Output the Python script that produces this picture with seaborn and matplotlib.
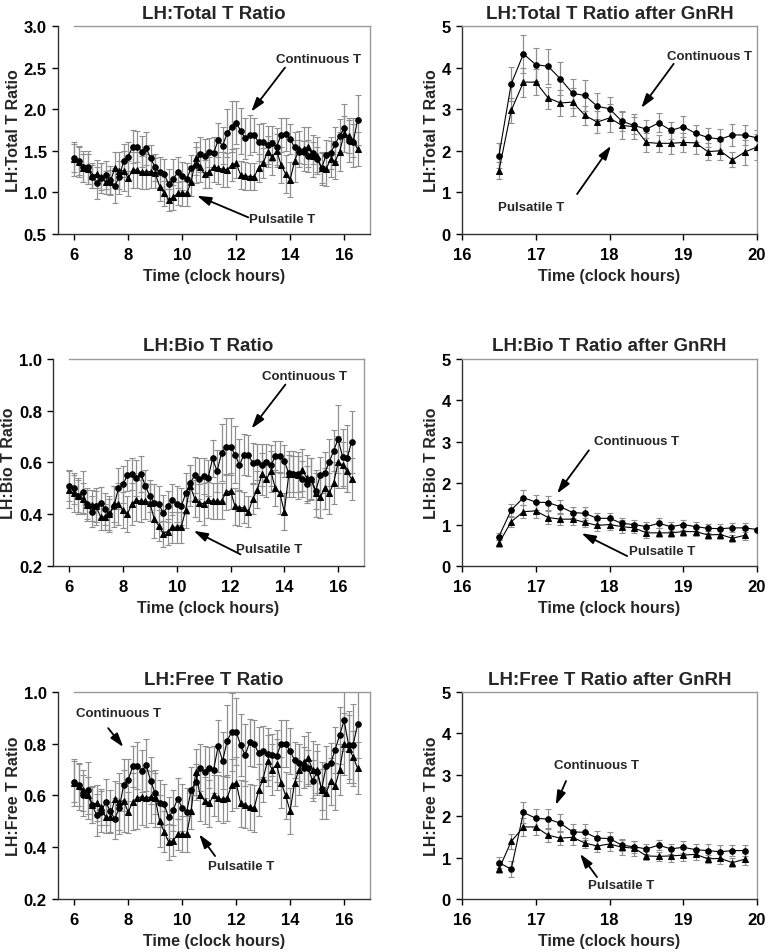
import numpy as np
import matplotlib
matplotlib.use('Agg')
import matplotlib.pyplot as plt
import seaborn as sns

sns.set_theme(style='ticks')
plt.rcParams['font.family'] = ['Liberation Sans', 'DejaVu Sans']
plt.rcParams['font.weight'] = 'bold'
plt.rcParams['axes.labelweight'] = 'bold'
plt.rcParams['axes.titleweight'] = 'bold'

# sampling times (clock hours, every 10 min)
t_day = np.round(6 + np.arange(64) / 6, 3)
t_gnrh = np.round(16.5 + np.arange(22) / 6, 3)

# ---- LH:Total T ----
total_cont = [1.41, 1.38, 1.31, 1.30, 1.19, 1.11, 1.17, 1.21, 1.15, 1.08,
              1.18, 1.38, 1.43, 1.55, 1.55, 1.49, 1.53, 1.41, 1.30, 1.24,
              1.22, 1.10, 1.16, 1.24, 1.20, 1.16, 1.29, 1.33, 1.46, 1.44,
              1.48, 1.47, 1.63, 1.56, 1.71, 1.79, 1.84, 1.74, 1.65, 1.69,
              1.69, 1.60, 1.60, 1.57, 1.59, 1.55, 1.69, 1.70, 1.64, 1.54,
              1.49, 1.48, 1.44, 1.47, 1.40, 1.29, 1.45, 1.47, 1.58, 1.68,
              1.77, 1.62, 1.60, 1.87]
total_cont_err = [0.17, 0.17, 0.19, 0.20, 0.14, 0.19, 0.18, 0.17, 0.17, 0.21,
                  0.20, 0.20, 0.17, 0.20, 0.19, 0.19, 0.20, 0.16, 0.16, 0.18,
                  0.18, 0.18, 0.24, 0.19, 0.17, 0.19, 0.16, 0.22, 0.21, 0.20,
                  0.17, 0.19, 0.21, 0.22, 0.29, 0.31, 0.26, 0.28, 0.25, 0.24,
                  0.21, 0.22, 0.23, 0.23, 0.21, 0.22, 0.20, 0.20, 0.18, 0.18,
                  0.14, 0.14, 0.19, 0.13, 0.15, 0.18, 0.18, 0.19, 0.20, 0.20,
                  0.29, 0.25, 0.30, 0.30]
total_puls = [1.40, 1.37, 1.29, 1.28, 1.20, 1.22, 1.19, 1.12, 1.12, 1.29,
              1.26, 1.26, 1.17, 1.27, 1.27, 1.24, 1.25, 1.25, 1.23, 1.07,
              0.99, 0.91, 0.94, 0.99, 0.99, 0.99, 1.12, 1.41, 1.30, 1.22,
              1.24, 1.31, 1.29, 1.28, 1.27, 1.33, 1.35, 1.21, 1.20, 1.19,
              1.19, 1.29, 1.35, 1.49, 1.42, 1.50, 1.33, 1.22, 1.15, 1.38,
              1.52, 1.52, 1.55, 1.44, 1.44, 1.29, 1.28, 1.40, 1.37, 1.49,
              1.70, 1.68, 1.62, 1.52]
total_puls_err = [0.20, 0.19, 0.17, 0.18, 0.15, 0.17, 0.16, 0.14, 0.15, 0.20,
                  0.22, 0.24, 0.21, 0.22, 0.22, 0.20, 0.21, 0.20, 0.18, 0.17,
                  0.15, 0.13, 0.15, 0.14, 0.15, 0.15, 0.16, 0.20, 0.18, 0.17,
                  0.19, 0.18, 0.19, 0.21, 0.20, 0.19, 0.18, 0.17, 0.17, 0.16,
                  0.16, 0.17, 0.18, 0.19, 0.21, 0.20, 0.22, 0.23, 0.21, 0.25,
                  0.22, 0.26, 0.24, 0.25, 0.22, 0.20, 0.20, 0.22, 0.21, 0.23,
                  0.22, 0.21, 0.20, 0.20]

# ---- LH:Bio T ----
bio_cont = [0.51, 0.50, 0.47, 0.485, 0.44, 0.41, 0.43, 0.445, 0.42, 0.40,
            0.43, 0.50, 0.515, 0.55, 0.555, 0.54, 0.555, 0.51, 0.47, 0.445,
            0.44, 0.405, 0.43, 0.455, 0.44, 0.43, 0.48, 0.52, 0.55, 0.537,
            0.547, 0.54, 0.615, 0.566, 0.637, 0.66, 0.66, 0.63, 0.59, 0.63,
            0.627, 0.596, 0.60, 0.59, 0.60, 0.588, 0.624, 0.624, 0.605, 0.557,
            0.554, 0.554, 0.537, 0.515, 0.537, 0.49, 0.55, 0.56, 0.60, 0.645,
            0.69, 0.62, 0.615, 0.68]
bio_cont_err = [0.06, 0.06, 0.07, 0.08, 0.06, 0.06, 0.07, 0.06, 0.06, 0.07,
                0.08, 0.08, 0.07, 0.06, 0.06, 0.07, 0.07, 0.06, 0.06, 0.07,
                0.07, 0.07, 0.06, 0.06, 0.07, 0.07, 0.08, 0.07, 0.07, 0.08,
                0.07, 0.07, 0.07, 0.08, 0.11, 0.11, 0.11, 0.11, 0.10, 0.08,
                0.08, 0.08, 0.07, 0.08, 0.07, 0.08, 0.06, 0.06, 0.06, 0.07,
                0.07, 0.07, 0.07, 0.07, 0.08, 0.07, 0.07, 0.08, 0.09, 0.08,
                0.13, 0.11, 0.13, 0.12]
bio_puls = [0.495, 0.48, 0.47, 0.46, 0.435, 0.435, 0.43, 0.39, 0.39, 0.40,
            0.44, 0.44, 0.415, 0.40, 0.44, 0.455, 0.45, 0.45, 0.445, 0.38,
            0.355, 0.325, 0.333, 0.35, 0.35, 0.35, 0.416, 0.51, 0.46, 0.445,
            0.44, 0.455, 0.45, 0.45, 0.45, 0.485, 0.49, 0.43, 0.425, 0.425,
            0.41, 0.46, 0.495, 0.555, 0.535, 0.565, 0.50, 0.48, 0.41, 0.555,
            0.555, 0.55, 0.57, 0.54, 0.535, 0.48, 0.465, 0.50, 0.48, 0.52,
            0.60, 0.59, 0.565, 0.535]
bio_puls_err = [0.07, 0.07, 0.06, 0.06, 0.06, 0.06, 0.06, 0.05, 0.05, 0.06,
                0.07, 0.08, 0.07, 0.07, 0.08, 0.08, 0.08, 0.07, 0.07, 0.07,
                0.06, 0.05, 0.05, 0.06, 0.06, 0.06, 0.07, 0.08, 0.07, 0.07,
                0.08, 0.07, 0.07, 0.07, 0.07, 0.07, 0.07, 0.07, 0.07, 0.06,
                0.06, 0.06, 0.07, 0.08, 0.07, 0.08, 0.07, 0.08, 0.07, 0.09,
                0.09, 0.09, 0.08, 0.09, 0.08, 0.09, 0.08, 0.08, 0.08, 0.08,
                0.10, 0.09, 0.08, 0.08]

# ---- LH:Free T ----
free_cont = [0.653, 0.64, 0.60, 0.62, 0.563, 0.524, 0.537, 0.575, 0.54, 0.51,
             0.55, 0.64, 0.66, 0.712, 0.715, 0.695, 0.717, 0.657, 0.608, 0.57,
             0.566, 0.515, 0.543, 0.588, 0.553, 0.537, 0.62, 0.653, 0.708, 0.69,
             0.708, 0.70, 0.79, 0.734, 0.81, 0.846, 0.846, 0.795, 0.756, 0.805,
             0.80, 0.763, 0.77, 0.76, 0.756, 0.753, 0.80, 0.80, 0.772, 0.736,
             0.727, 0.708, 0.705, 0.657, 0.69, 0.624, 0.712, 0.724, 0.776, 0.833,
             0.89, 0.795, 0.795, 0.875]
free_cont_err = [0.08, 0.08, 0.08, 0.11, 0.07, 0.08, 0.08, 0.09, 0.08, 0.08,
                 0.10, 0.10, 0.08, 0.08, 0.09, 0.08, 0.10, 0.09, 0.08, 0.09,
                 0.08, 0.08, 0.08, 0.08, 0.09, 0.09, 0.09, 0.07, 0.09, 0.10,
                 0.08, 0.09, 0.10, 0.11, 0.14, 0.15, 0.13, 0.12, 0.12, 0.09,
                 0.09, 0.10, 0.10, 0.10, 0.08, 0.10, 0.09, 0.09, 0.09, 0.07,
                 0.07, 0.08, 0.07, 0.08, 0.08, 0.08, 0.08, 0.08, 0.09, 0.11,
                 0.12, 0.13, 0.16, 0.13]
free_puls = [0.65, 0.635, 0.62, 0.60, 0.565, 0.57, 0.555, 0.515, 0.515, 0.585,
             0.575, 0.58, 0.535, 0.575, 0.59, 0.595, 0.59, 0.595, 0.59, 0.50,
             0.46, 0.42, 0.425, 0.45, 0.45, 0.45, 0.54, 0.69, 0.60, 0.58,
             0.57, 0.60, 0.59, 0.585, 0.59, 0.64, 0.65, 0.57, 0.565, 0.555,
             0.55, 0.62, 0.665, 0.735, 0.70, 0.72, 0.65, 0.60, 0.54, 0.65,
             0.70, 0.73, 0.745, 0.70, 0.70, 0.62, 0.61, 0.655, 0.635, 0.70,
             0.80, 0.78, 0.75, 0.705]
free_puls_err = [0.09, 0.09, 0.08, 0.07, 0.07, 0.07, 0.07, 0.06, 0.06, 0.07,
                 0.11, 0.12, 0.08, 0.11, 0.12, 0.11, 0.11, 0.10, 0.11, 0.10,
                 0.08, 0.07, 0.06, 0.06, 0.07, 0.07, 0.07, 0.09, 0.10, 0.09,
                 0.09, 0.08, 0.09, 0.09, 0.09, 0.10, 0.10, 0.09, 0.09, 0.09,
                 0.09, 0.10, 0.09, 0.10, 0.10, 0.10, 0.10, 0.09, 0.09, 0.09,
                 0.10, 0.10, 0.10, 0.11, 0.10, 0.11, 0.10, 0.09, 0.09, 0.10,
                 0.12, 0.13, 0.10, 0.10]

# ---- after GnRH ----
g_total_cont = [1.88, 3.61, 4.33, 4.07, 4.03, 3.73, 3.38, 3.33, 3.07, 3.01, 2.71,
                2.61, 2.52, 2.67, 2.49, 2.58, 2.42, 2.32, 2.28, 2.38, 2.38, 2.31]
g_total_cont_err = [0.30, 0.41, 0.45, 0.40, 0.42, 0.40, 0.35, 0.37, 0.31, 0.28, 0.24,
                    0.20, 0.21, 0.23, 0.21, 0.25, 0.21, 0.23, 0.25, 0.26, 0.25, 0.20]
g_total_puls = [1.52, 2.97, 3.65, 3.65, 3.27, 3.15, 3.17, 2.85, 2.69, 2.79, 2.61,
                2.58, 2.20, 2.18, 2.18, 2.20, 2.19, 1.98, 2.00, 1.78, 1.97, 2.09]
g_total_puls_err = [0.20, 0.30, 0.35, 0.32, 0.27, 0.32, 0.34, 0.23, 0.27, 0.34, 0.33,
                    0.30, 0.22, 0.21, 0.25, 0.23, 0.26, 0.20, 0.23, 0.18, 0.30, 0.32]

g_bio_cont = [0.71, 1.35, 1.65, 1.54, 1.53, 1.43, 1.29, 1.27, 1.15, 1.15, 1.03,
              1.00, 0.95, 1.03, 0.95, 1.00, 0.95, 0.91, 0.90, 0.92, 0.92, 0.88]
g_bio_cont_err = [0.09, 0.15, 0.18, 0.18, 0.17, 0.17, 0.14, 0.15, 0.14, 0.13, 0.12,
                  0.12, 0.11, 0.12, 0.11, 0.12, 0.11, 0.11, 0.12, 0.11, 0.11, 0.03]
g_bio_puls = [0.55, 1.07, 1.31, 1.33, 1.17, 1.13, 1.13, 1.05, 0.98, 1.00, 0.95,
              0.92, 0.80, 0.80, 0.80, 0.83, 0.83, 0.75, 0.76, 0.67, 0.74]
g_bio_puls_err = [0.08, 0.12, 0.16, 0.18, 0.15, 0.15, 0.15, 0.12, 0.13, 0.13, 0.15,
                  0.12, 0.12, 0.11, 0.11, 0.11, 0.11, 0.10, 0.11, 0.09, 0.12]

g_free_cont = [0.88, 0.72, 2.09, 1.95, 1.93, 1.83, 1.62, 1.61, 1.47, 1.46, 1.30,
               1.26, 1.21, 1.30, 1.21, 1.25, 1.19, 1.17, 1.14, 1.17, 1.17]
g_free_cont_err = [0.14, 0.20, 0.26, 0.23, 0.24, 0.22, 0.20, 0.19, 0.18, 0.16, 0.15,
                   0.14, 0.12, 0.12, 0.12, 0.15, 0.13, 0.15, 0.16, 0.13, 0.13]
g_free_puls = [0.72, 1.39, 1.74, 1.74, 1.54, 1.47, 1.49, 1.35, 1.28, 1.33, 1.25,
               1.23, 1.04, 1.03, 1.04, 1.06, 1.08, 0.97, 0.98, 0.88, 0.96]
g_free_puls_err = [0.10, 0.19, 0.21, 0.19, 0.17, 0.17, 0.19, 0.13, 0.15, 0.18, 0.18,
                   0.18, 0.11, 0.11, 0.14, 0.14, 0.15, 0.10, 0.13, 0.10, 0.14]


def draw_panel(ax, t, cont, cont_err, puls, puls_err, title, ylabel,
               xlim, ylim, xticks, yticks, ytick_fmt, cont_txt, puls_txt, day=True):
    tc = t[:len(cont)]
    tp = t[:len(puls)]
    ax.errorbar(tc, cont, yerr=cont_err, fmt='none', ecolor='#8f8f8f',
                elinewidth=0.9, capsize=2.3, capthick=0.8, zorder=1)
    ax.errorbar(tp, puls, yerr=puls_err, fmt='none', ecolor='#8f8f8f',
                elinewidth=0.9, capsize=2.3, capthick=0.8, zorder=1)
    sns.lineplot(x=tc, y=cont, ax=ax, color='black', lw=0.8, marker='o',
                 markersize=4.0, markeredgecolor='black', estimator=None, zorder=3)
    sns.lineplot(x=tp, y=puls, ax=ax, color='black', lw=0.8, marker='^',
                 markersize=4.5, markeredgecolor='black', estimator=None, zorder=3)

    ax.set_xlim(*xlim)
    ax.set_ylim(*ylim)
    ax.set_xticks(xticks)
    ax.set_yticks(yticks)
    ax.set_yticklabels([ytick_fmt.format(v) for v in yticks])
    ax.tick_params(axis='both', direction='out', length=4, width=1,
                   labelsize=12, colors='black')
    ax.tick_params(axis='x', pad=5)
    ax.tick_params(axis='y', pad=4)
    for lab in ax.get_xticklabels() + ax.get_yticklabels():
        lab.set_fontweight('bold')
    ax.set_title(title, fontsize=13.5, fontweight='bold', pad=6)
    ax.set_xlabel('Time (clock hours)', fontsize=11.5, fontweight='bold', labelpad=5)
    ax.set_ylabel(ylabel, fontsize=11.5, fontweight='bold', labelpad=2)

    for side in ['left', 'bottom']:
        ax.spines[side].set_color('#333333')
        ax.spines[side].set_linewidth(1.0)
    for side in ['top', 'right']:
        ax.spines[side].set_visible(True)
        ax.spines[side].set_color('#9a9a9a')
        ax.spines[side].set_linewidth(1.0)
    if day:
        ax.spines['top'].set_bounds(6, xlim[1])

    arrow = dict(arrowstyle='-|>,head_length=0.7,head_width=0.22',
                 color='black', lw=1.3, shrinkA=0, shrinkB=0)
    for (txt, txy, tail, head) in [cont_txt, puls_txt]:
        ax.text(txy[0], txy[1], txt, ha='center', va='center',
                fontsize=9.5, fontweight='bold')
        ax.annotate('', xy=head, xytext=tail, arrowprops=arrow)


fig = plt.figure(figsize=(7.68, 9.53), dpi=100)

ax_tl = fig.add_axes([0.0755, 0.7534, 0.4063, 0.2183])
ax_tr = fig.add_axes([0.6016, 0.7534, 0.3841, 0.2183])
ax_ml = fig.add_axes([0.0690, 0.4050, 0.4049, 0.2176])
ax_mr = fig.add_axes([0.6016, 0.4050, 0.3841, 0.2176])
ax_bl = fig.add_axes([0.0755, 0.0556, 0.4063, 0.2173])
ax_br = fig.add_axes([0.6016, 0.0556, 0.3841, 0.2173])

day_x = (5.4, 16.96)
day_ticks = [6, 8, 10, 12, 14, 16]
g_x = (16, 20)
g_ticks = [16, 17, 18, 19, 20]

draw_panel(ax_tl, t_day, total_cont, total_cont_err, total_puls, total_puls_err,
           'LH:Total T Ratio', 'LH:Total T Ratio', day_x, (0.5, 3.0), day_ticks,
           [0.5, 1.0, 1.5, 2.0, 2.5, 3.0], '{:.1f}',
           ('Continuous T', (15.05, 2.60), (13.81, 2.50), (12.56, 1.97)),
           ('Pulsatile T', (13.7, 0.68), (12.45, 0.70), (10.55, 0.96)))

draw_panel(ax_tr, t_gnrh, g_total_cont, g_total_cont_err, g_total_puls, g_total_puls_err,
           'LH:Total T Ratio after GnRH', 'LH:Total T Ratio', g_x, (0, 5), g_ticks,
           [0, 1, 2, 3, 4, 5], '{:.0f}',
           ('Continuous T', (19.35, 4.28), (18.87, 4.09), (18.43, 3.03)),
           ('Pulsatile T', (16.94, 0.65), (17.56, 0.96), (18.02, 2.12)), day=False)

draw_panel(ax_ml, t_day, bio_cont, bio_cont_err, bio_puls, bio_puls_err,
           'LH:Bio T Ratio', 'LH:Bio T Ratio', day_x, (0.2, 1.0), day_ticks,
           [0.2, 0.4, 0.6, 0.8, 1.0], '{:.1f}',
           ('Continuous T', (14.74, 0.932), (14.04, 0.90), (12.78, 0.73)),
           ('Pulsatile T', (13.44, 0.265), (12.37, 0.245), (10.63, 0.336)))

draw_panel(ax_mr, t_gnrh, g_bio_cont, g_bio_cont_err, g_bio_puls, g_bio_puls_err,
           'LH:Bio T Ratio after GnRH', 'LH:Bio T Ratio', g_x, (0, 5), g_ticks,
           [0, 1, 2, 3, 4, 5], '{:.0f}',
           ('Continuous T', (18.36, 3.01), (17.72, 2.79), (17.29, 1.75)),
           ('Pulsatile T', (18.71, 0.36), (18.24, 0.24), (17.62, 0.79)), day=False)

draw_panel(ax_bl, t_day, free_cont, free_cont_err, free_puls, free_puls_err,
           'LH:Free T Ratio', 'LH:Free T Ratio', day_x, (0.2, 1.0), day_ticks,
           [0.2, 0.4, 0.6, 0.8, 1.0], '{:.1f}',
           ('Continuous T', (7.63, 0.918), (7.26, 0.86), (7.82, 0.787)),
           ('Pulsatile T', (12.2, 0.327), (11.22, 0.366), (10.63, 0.45)))

draw_panel(ax_br, t_gnrh, g_free_cont, g_free_cont_err, g_free_puls, g_free_puls_err,
           'LH:Free T Ratio after GnRH', 'LH:Free T Ratio', g_x, (0, 5), g_ticks,
           [0, 1, 2, 3, 4, 5], '{:.0f}',
           ('Continuous T', (17.82, 3.23), (17.41, 2.85), (17.27, 2.27)),
           ('Pulsatile T', (18.16, 0.34), (17.83, 0.53), (17.6, 1.09)), day=False)

fig.savefig('out.png', dpi=100, facecolor='white')
